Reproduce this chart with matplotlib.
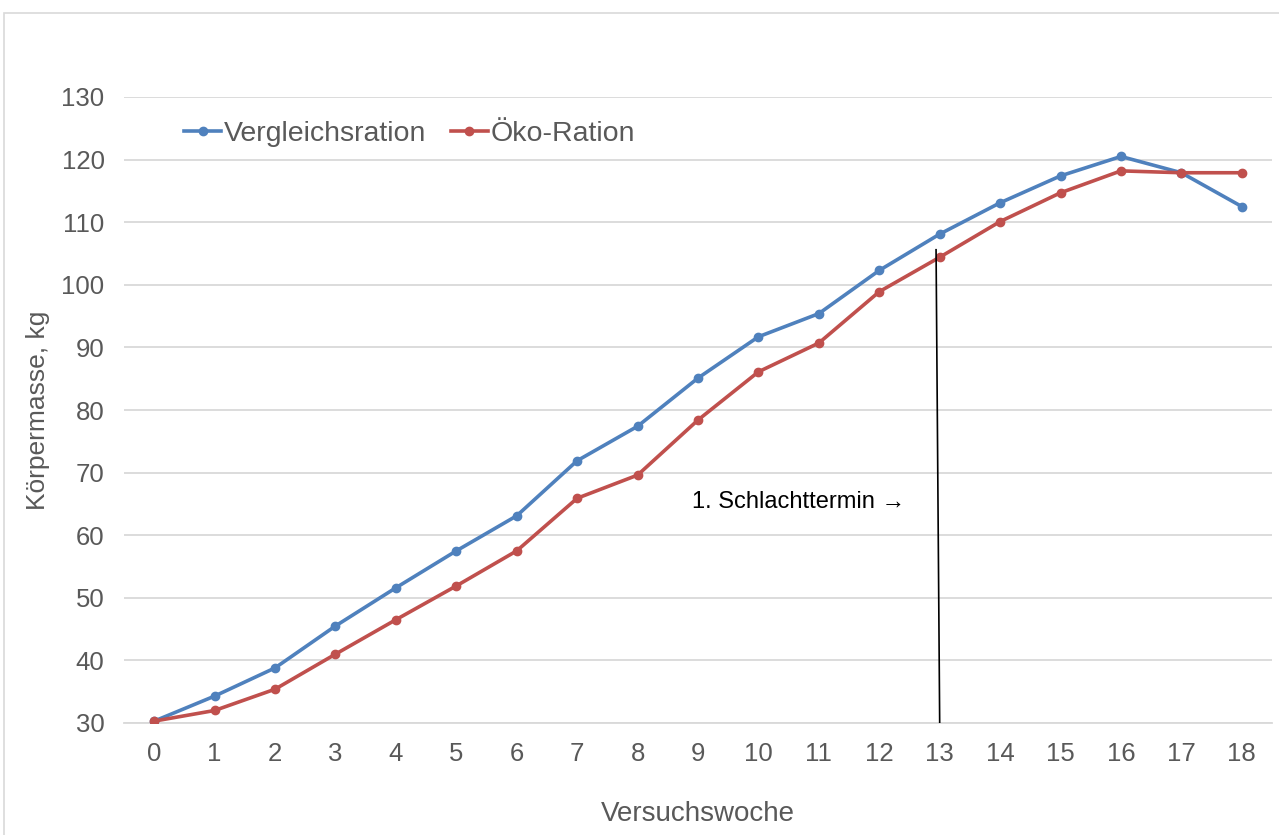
import matplotlib.pyplot as plt
import matplotlib.patches as patches

plt.rcParams['font.family'] = ['Liberation Sans', 'DejaVu Sans']

wochen = list(range(19))
vergleich = [30.3, 34.3, 38.8, 45.5, 51.6, 57.5, 63.1, 71.9, 77.4, 85.1,
             91.7, 95.4, 102.3, 108.1, 113.1, 117.4, 120.5, 117.9, 112.5]
oeko = [30.3, 32.0, 35.4, 41.0, 46.5, 51.9, 57.5, 65.9, 69.6, 78.4,
        86.1, 90.7, 98.9, 104.4, 110.1, 114.7, 118.2, 117.9, 117.9]
y_ticks = [30, 40, 50, 60, 70, 80, 90, 100, 110, 120, 130]

grau = '#595959'

fig = plt.figure(figsize=(12.79, 8.35), dpi=100)
ax = fig.add_axes([124/1279, 1 - 723/835, 1148/1279, 626/835])

# chart border (cut off right/bottom like in the screenshot)
fig.patches.append(patches.Rectangle((4/1279, -0.5), 2, 1.5 - 13/835,
                                     transform=fig.transFigure, fill=False,
                                     edgecolor='#D9D9D9', lw=1.2))

ax.plot(wochen, vergleich, color='#4F81BD', lw=2.6, marker='o', ms=6,
        label='Vergleichsration', zorder=3)
ax.plot(wochen, oeko, color='#C0504D', lw=2.6, marker='o', ms=6,
        label='Öko-Ration', zorder=3)

ax.set_xlim(-0.5, 18.5)
ax.set_ylim(30, 130)
ax.set_xticks(wochen)
ax.set_yticks(y_ticks)
ax.grid(axis='y', color='#D9D9D9', lw=1.3)
ax.set_axisbelow(True)
for s in ['top', 'right', 'left']:
    ax.spines[s].set_visible(False)
ax.spines['bottom'].set_color('#D9D9D9')
ax.spines['bottom'].set_linewidth(1.3)
ax.tick_params(length=0, labelsize=18.5, labelcolor=grau)
ax.tick_params(axis='x', pad=14)
ax.tick_params(axis='y', pad=14)

ax.set_xlabel('Versuchswoche', fontsize=20, color=grau, labelpad=25)
ax.set_ylabel('Körpermasse, kg', fontsize=19, color=grau, labelpad=8)

# 1. Schlachttermin
ax.plot([13, 12.94], [30, 105.6], color='black', lw=1.2, zorder=4)
ax.text(8.9, 65.3, '1. Schlachttermin →', fontsize=17, color='black',
        ha='left', va='center', family=['Liberation Sans', 'DejaVu Sans'])

ax.legend(loc='upper left', bbox_to_anchor=(0.03, 1.003), ncol=2,
          frameon=False, fontsize=20.5, labelcolor=grau, handlelength=1.3,
          handletextpad=0.1, columnspacing=0.85)

fig.savefig('out.png', dpi=100)
